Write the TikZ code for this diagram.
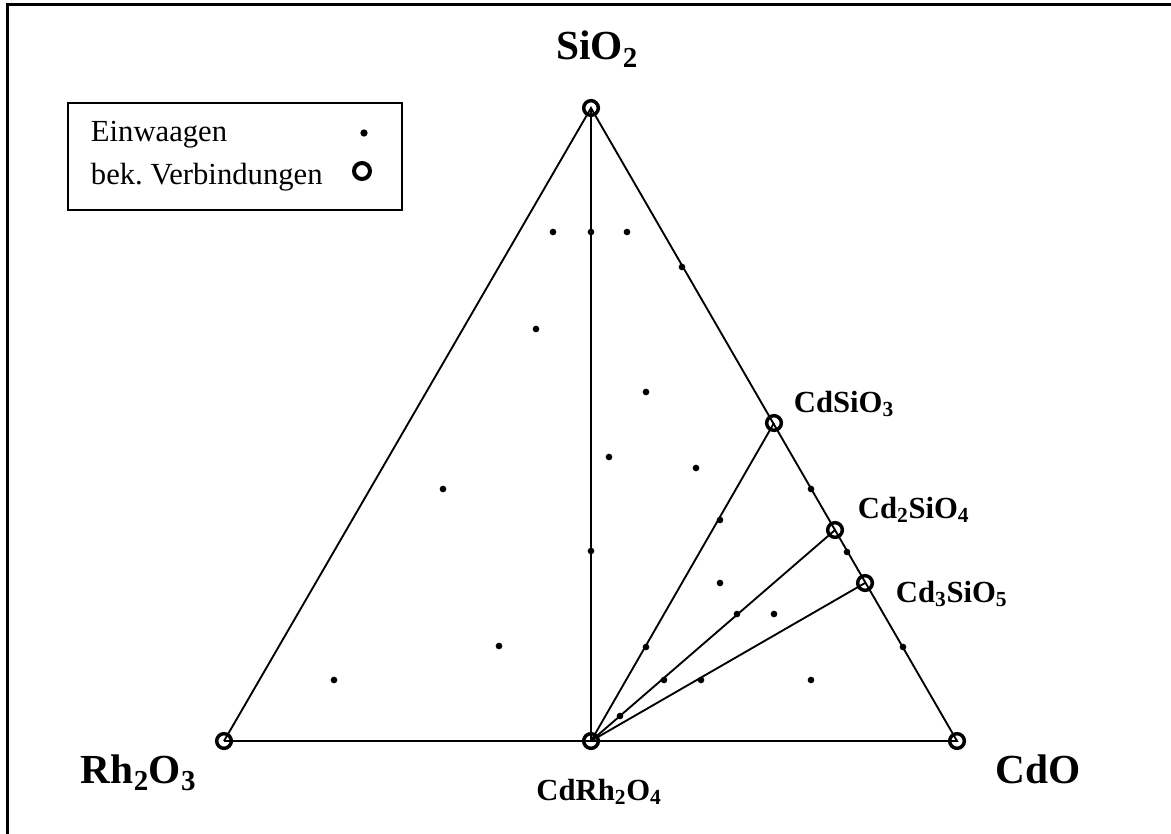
\documentclass[tikz,border=0pt]{standalone}
\usepackage{fontspec}
\setmainfont{Liberation Serif}
\usepackage{tikz}
\usetikzlibrary{positioning}
\tikzset{bek node/.style={circle, draw, line width=2.6pt, minimum size=11pt, inner sep=0pt},
         dot node/.style={circle, fill, minimum size=5pt, inner sep=0pt},
         big label/.style={font=\fontsize{31}{34}\selectfont\bfseries, inner sep=0pt},
         small label/.style={font=\fontsize{23}{26}\selectfont\bfseries, inner sep=0pt},
         legend text/.style={font=\fontsize{23}{26}\selectfont, inner sep=0pt, anchor=base west},}

\begin{document}
\begin{tikzpicture}[x=0.75pt, y=-0.75pt, line width=1.4pt]
        \useasboundingbox (0,0) rectangle (1171,834);
        % Frame
        \begin{scope}
        \clip (0,0) rectangle (1171,834);
        \draw[line width=2.4pt] (7.5,4.5) rectangle (1185,850);
        \end{scope}
        % Corners and known compounds
        \node[bek node] (rh) at (224,741) {};
        \node[bek node] (cdo) at (957,741) {};
        \node[bek node] (sio) at (591,108) {};
        \node[bek node] (cdrh) at (591,741) {};
        \node[bek node] (cdsi) at (774,423) {};
        \node[bek node] (cdzwei) at (835,530) {};
        \node[bek node] (cddrei) at (865,583) {};
        % Lines
        \draw (rh.center) -- (cdo.center) -- (sio.center) -- (rh.center);
        \draw (sio.center) -- (cdrh.center);
        \draw (cdrh.center) -- (cdsi.center);
        \draw (cdrh.center) -- (cdzwei.center);
        \draw (cdrh.center) -- (cddrei.center);
        % Einwaagen
        \foreach \x/\y [count=\i] in {553/232, 591/232, 627/232, 682/267, 536/329, 646/392,
                609/457, 696/468, 443/489, 811/489, 720/520, 591/551, 847/552, 720/583,
                737/614, 774/614, 499/646, 646/647, 903/647, 334/680, 664/680, 701/680,
                811/680, 620/716}
            \node[dot node] (e\i) at (\x,\y) {};
        % Labels
        \node[big label, anchor=base] (lsio) at (597,60) {SiO\textsubscript{2}};
        \node[big label, anchor=base west] (lrh) at (80,783) {Rh\textsubscript{2}O\textsubscript{3}};
        \node[big label, anchor=base west] (lcdo) at (995,783) {CdO};
        \node[small label, anchor=base] (lcdrh) at (599,800) {CdRh\textsubscript{2}O\textsubscript{4}};
        \node[small label, anchor=base west] (lcdsi) at (793,412) {CdSiO\textsubscript{3}};
        \node[small label, anchor=base west] (lcdzwei) at (857,518) {Cd\textsubscript{2}SiO\textsubscript{4}};
        \node[small label, anchor=base west] (lcddrei) at (895,602) {Cd\textsubscript{3}SiO\textsubscript{5}};
        % Legend
        \draw[line width=1.6pt] (68,103) rectangle (402,210);
        \node[legend text] (leinw) at (90,142) {Einwaagen};
        \node[legend text] (lverb) at (90,185) {\frenchspacing bek. Verbindungen};
        \node[dot node, minimum size=5.5pt] (ldot) at (364,133) {};
        \node[bek node, line width=3pt, minimum size=12pt] (lcirc) at (362,171) {};
\end{tikzpicture}
\end{document}
